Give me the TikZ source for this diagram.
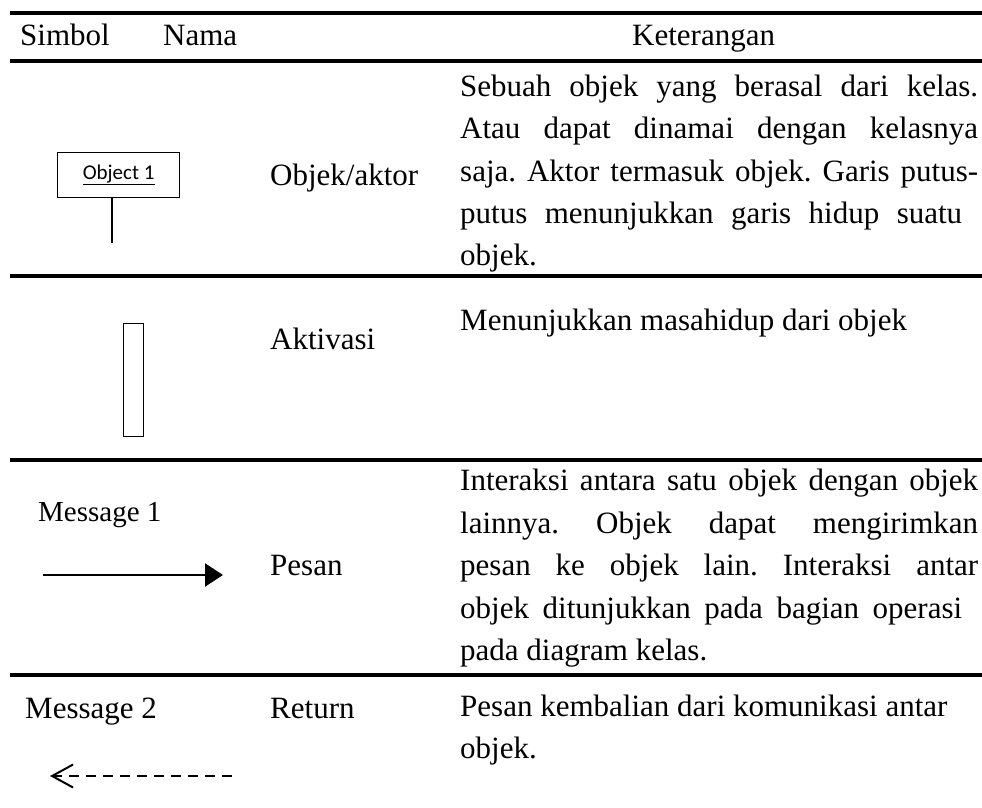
\documentclass[tikz,border=0pt]{standalone}
\usepackage{fontspec}
\setmainfont{Liberation Serif}
\newfontfamily\calfont{Carlito}
\usetikzlibrary{arrows.meta}
\frenchspacing
\begin{document}
\frenchspacing
\begin{tikzpicture}[x=1pt,y=-1pt,
  txt/.style={font=\fontsize{31}{40}\selectfont\frenchspacing, inner sep=0pt, anchor=base west},
  smalltxt/.style={font=\fontsize{29}{36}\selectfont, inner sep=0pt, anchor=base west},
  rulebar/.style={line width=3.6pt},
  symbox/.style={draw, line width=1.3pt, inner sep=0pt, anchor=north west}]
\useasboundingbox (0,0) rectangle (982,808);
% rules
\foreach \n/\y in {1/13,2/61,3/276,4/460,5/675}{
  \coordinate (r\n a) at (10,\y);
  \coordinate (r\n b) at (982,\y);
  \draw[rulebar] (r\n a) -- (r\n b);
}
% header
\node[txt] (hSimbol) at (20,46) {Simbol};
\node[txt] (hNama) at (163,46) {Nama};
\node[txt] (hKet) at (632,46) {Keterangan};
% row 1
\node[symbox, minimum width=122pt, minimum height=45pt] (obj) at (57,152)
  {\calfont\fontsize{21}{22}\selectfont\underline{Object 1}};
\coordinate (lifeA) at (112,197);
\coordinate (lifeB) at (112,243);
\draw[line width=1.3pt] (lifeA) -- (lifeB);
\node[txt] (n1) at (270,185) {Objek/aktor};
\node[txt] (d1a) at (460,96) {\makebox[518pt][s]{Sebuah objek yang berasal dari kelas.}};
\node[txt] (d1b) at (460,138.5) {\makebox[518pt][s]{Atau dapat dinamai dengan kelasnya}};
\node[txt] (d1c) at (460,181) {\makebox[518pt][s]{saja. Aktor termasuk objek. Garis putus-}};
\node[txt] (d1d) at (460,223.5) {\makebox[502pt][s]{putus menunjukkan garis hidup suatu}};
\node[txt] (d1e) at (460,265) {objek.};
% row 2
\node[symbox, minimum width=20pt, minimum height=113pt] (act) at (123,323) {};
\node[txt] (n2) at (270,349) {Aktivasi};
\node[txt] (d2a) at (460,330) {Menunjukkan masahidup dari objek};
% row 3
\node[smalltxt] (m1) at (38,521) {Message 1};
\coordinate (m1s) at (43,575);
\coordinate (m1e) at (223,575);
\draw[line width=2pt, -{Triangle[length=18pt,width=23pt]}] (m1s) -- (m1e);
\node[txt] (n3) at (270,575) {Pesan};
\node[txt] (d3a) at (460,490) {\makebox[518pt][s]{Interaksi antara satu objek dengan objek}};
\node[txt] (d3b) at (460,533) {\makebox[518pt][s]{lainnya. Objek dapat mengirimkan}};
\node[txt] (d3c) at (460,575) {\makebox[518pt][s]{pesan ke objek lain. Interaksi antar}};
\node[txt] (d3d) at (460,618) {\makebox[502pt][s]{objek ditunjukkan pada bagian operasi}};
\node[txt] (d3e) at (460,660) {pada diagram kelas.};
% row 4
\node[txt] (m2) at (25,718) {Message 2};
\coordinate (m2s) at (232,776);
\coordinate (m2e) at (50,776);
\draw[line width=2pt, dash pattern=on 10pt off 7pt,
  -{Straight Barb[length=21pt,width=23pt,line width=2pt]}] (m2s) -- (m2e);
\node[txt] (n4) at (270,718) {Return};
\node[txt] (d4a) at (460,716) {Pesan kembalian dari komunikasi antar};
\node[txt] (d4b) at (460,758) {objek.};
\end{tikzpicture}
\end{document}
